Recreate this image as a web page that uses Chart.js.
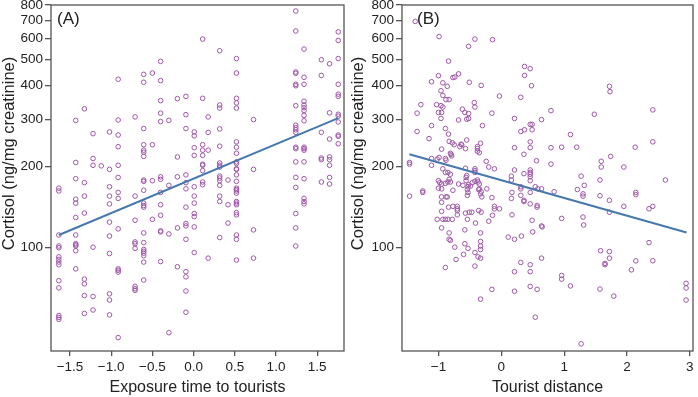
<!DOCTYPE html>
<html>
<head>
<meta charset="utf-8">
<script src="https://cdn.jsdelivr.net/npm/chart.js@4.4.0/dist/chart.umd.min.js"></script>
<style>
  html, body { margin: 0; padding: 0; background: #fff; }
  #wrap { position: relative; width: 698px; height: 397px; }
  .panel { position: absolute; top: 0; width: 349px; height: 397px; }
</style>
</head>
<body>
<div id="wrap">
  <div class="panel" style="left:0"><canvas id="chartA" width="349" height="397"></canvas></div>
  <div class="panel" style="left:349px"><canvas id="chartB" width="349" height="397"></canvas></div>
</div>
<script>
// panel A: exposure time levels (standardised) and cortisol values at each level
const exposureLevels = [-1.635, -1.43, -1.325, -1.22, -1.12, -1.02, -0.915, -0.71, -0.605, -0.50, -0.40, -0.30, -0.196,
  -0.093, 0.008, 0.11, 0.177, 0.317, 0.418, 0.52, 0.727, 1.24, 1.34, 1.55, 1.65, 1.755];
const cortisolByExposure = [
  [166, 162, 111, 101, 99.5, 92, 90, 88, 86, 75, 70.5, 55.6, 54.7, 53.8],
  [297, 207, 180, 151, 146, 129, 111, 103, 102, 101, 97, 83],
  [328, 174, 155, 134, 76, 73, 66, 56.6],
  [265, 214, 202, 100, 65.5, 58.3],
  [201],
  [269, 195, 168, 155, 145, 124, 110, 94.7, 67, 63.5, 55.9],
  [423, 298, 262, 237, 202, 182, 160, 152, 117, 83, 82, 80.7, 46],
  [306, 155, 126, 104.6, 103, 99, 71.4, 70, 69],
  [441, 412, 277, 241, 230, 226, 218, 178, 176, 163, 146, 143, 141, 113, 104, 98, 96.5, 95, 93, 88, 75.4],
  [446, 241, 177, 127],
  [493, 418, 352, 316, 294, 183, 179, 160, 144, 131.5, 115, 114, 88.4],
  [297, 170, 112, 48],
  [358, 217, 183, 118, 84.5],
  [365, 312, 277, 186, 174, 165, 141, 122.5, 120, 107, 81, 77.5, 68.6, 57.2],
  [269, 260, 235, 220, 168, 155, 146, 133.5, 130, 119, 95.5],
  [597, 359, 241, 230, 220, 204, 202, 193, 175, 171],
  [306, 268, 230, 91],
  [540, 339, 330, 276, 238, 206, 202, 199, 184, 181, 177, 170, 155, 148, 108.6],
  [178, 144, 123],
  [505, 446, 359, 345, 330, 247, 236, 224, 208, 205, 196, 195, 186, 176, 166, 164, 162, 159, 148, 146, 144, 134.5, 132, 111, 107, 89.5],
  [299, 195, 116, 91],
  [760, 640, 450, 445, 405, 400, 337, 285, 279, 274, 268, 236, 233, 208, 182, 167, 133.5, 118, 101],
  [548, 430, 405, 350, 339, 331, 323, 310, 296, 236, 233, 230, 208, 180, 152, 148, 145],
  [500, 437, 268, 215, 212, 175],
  [483, 317, 253, 217, 212, 202, 182, 172],
  [635, 590, 505, 405, 372, 365, 313, 308, 293, 262, 259, 243]
];
const fitA_x = [-1.635, 1.755];
const fitA_y = [111, 303];

// panel B: tourist distance and cortisol
const distanceB = [
  -1.37, -0.99, -0.42, -0.52, -0.14, -0.84, 0.37, 0.46, 0.37, 0.48,
  -1.11, -1.00, -0.93, -0.86, -0.77, -0.74, -0.68, -0.51, -0.32, -0.96,
  -0.93, -0.88, -0.83, -0.03, 0.31, -1.28, -1.34, -1.03, -0.96, -0.93,
  -1.00, -0.95, -0.96, -0.62, -0.58, -0.52, -0.43, -0.42, -0.68, -0.55,
  -0.52, -0.15, -0.30, 0.21, 0.46, 0.49, 0.49, 0.37, 0.31, 0.64,
  0.79, -1.34, -1.11, -0.89, -1.15, -0.84, -0.83, -0.78, -0.75, -0.64,
  -0.66, -0.63, -0.57, -0.55, -0.95, -0.80, -0.79, -0.38, -0.38, -0.33,
  -0.38, -0.35, 0.21, 0.46, 0.46, 0.36, 0.56, 0.79, 0.96, 1.20,
  1.10, 1.48, 1.72, 1.73, 2.41, 2.41, 2.13, 1.74, 1.59, 1.59,
  1.95, 2.61, 1.27, 1.32, 1.21, 1.57, 2.14, 2.14, 0.79, -1.46,
  -1.46, -1.46, -1.25, -1.25, -1.11, -1.11, -1.02, -0.99, -0.89, -0.88,
  -0.81, -0.93, -0.89, -0.85, -0.81, -1.00, -0.98, -0.95, -0.89, -0.85,
  -0.83, -0.81, -1.00, -0.95, -0.88, -0.86, -0.95, -0.77, -0.68, -0.61,
  -0.55, -0.56, -0.56, -0.57, -0.42, -0.42, -0.42, -0.52, -0.53, -0.54,
  -0.53, -0.54, -0.46, -0.42, -0.38, -0.37, -0.35, -0.24, -0.20, -0.11,
  -0.35, -0.32, -0.23, -0.15, -0.49, -0.36, -0.33, -0.31, 0.21, 0.16,
  0.16, 0.36, 0.46, 0.46, 0.46, 0.46, 0.46, 0.31, 0.31, 0.46,
  0.54, 0.58, 0.64, 0.84, 0.17, 0.16, 0.31, 0.36, 0.36, 1.30,
  1.30, 1.57, 1.72, -0.95, -0.95, -0.84, -0.77, -0.70, -0.70, -0.70,
  -1.02, -0.93, -0.89, -0.85, -0.78, -0.95, -0.83, -0.83, -0.81, -0.70,
  -0.57, -0.51, -0.47, -0.54, -0.58, -0.41, -0.36, -0.32, -0.33, -0.33,
  -0.74, -0.72, -0.58, -0.60, -0.53, -0.42, -0.37, -0.33, -0.33, -0.33,
  -0.42, -0.89, -0.33, -0.20, -0.14, -0.11, -0.11, -0.03, -0.15, 0.17,
  0.11, 0.21, 0.32, 0.31, 0.21, 0.21, 0.46, 0.49, 0.50, 0.57,
  0.57, 0.64, 0.65, 0.46, 0.46, 0.46, 0.57, 0.64, 0.54, 0.96,
  0.96, 0.96, 1.10, 1.30, 1.31, 1.27, 1.58, 1.57, 1.65, 1.65,
  1.72, 1.72, 1.72, 1.79, 1.95, 2.07, 2.14, 2.35, 2.35, 2.41,
  2.41, 2.94, 2.94, 2.94
];
const cortisolB = [
  695, 610, 597, 561, 594, 494, 472, 463, 437, 400,
  414, 436, 410, 398, 429, 431, 443, 412, 401, 383,
  368, 355, 355, 366, 362, 340, 316, 340, 337, 333,
  318, 318, 302, 327, 318, 315, 346, 333, 298, 300,
  302, 316, 284, 302, 287, 287, 274, 274, 270, 299,
  323, 270, 284, 277, 254, 264, 248, 245, 241, 242,
  237, 241, 233, 251, 232, 222, 219, 237, 233, 244,
  228, 225, 235, 247, 235, 222, 210, 235, 236, 236,
  263, 313, 398, 380, 325, 247, 236, 218, 209, 199,
  199, 178, 184, 170, 164, 178, 160, 157, 204, 207,
  204, 155, 162, 160, 202, 214, 213, 216, 214, 211,
  224, 196, 190, 190, 187, 177, 174, 172, 173, 175,
  179, 175, 166, 165, 154, 154, 154, 163, 172, 170,
  185, 182, 177, 197, 196, 193, 190, 171, 168, 164,
  160, 156, 174, 176, 178, 175, 172, 209, 199, 196,
  165, 161, 165, 153, 169, 164, 158, 154, 194, 184,
  178, 188, 194, 190, 187, 183, 177, 168, 165, 160,
  168, 165, 165, 161, 160, 152, 156, 149.5, 148, 158,
  155, 155.5, 149.5, 147, 136, 141, 142, 142, 139, 137,
  127, 127, 127, 127, 127, 118, 113, 107, 106, 132,
  134, 135, 135, 127, 116, 123, 137, 135, 113, 105,
  100, 90, 103, 94, 99, 95.5, 92, 101, 98, 91,
  85, 84, 64, 125, 131.5, 142, 139, 139, 69.6, 132,
  109, 107, 110, 87.7, 81, 68.5, 145, 126, 114, 143,
  141, 120, 119, 86, 81, 71.4, 69.6, 91, 54.8, 128,
  78.4, 76, 71.7, 129.5, 121, 43.6, 97, 69.8, 87, 86,
  96.3, 91, 135, 65.7, 142, 82.3, 88.9, 104, 139, 142,
  89, 73.3, 70.4, 63.5
];
const fitB_x = [-1.463, 2.947];
const fitB_y = [222, 113.4];

// axis ticks
const cortisolTicks = [100, 200, 300, 400, 500, 600, 700, 800];
const xTicksA = [-1.5, -1.0, -0.5, 0.0, 0.5, 1.0, 1.5];
const xLabelsA = ['\u22121.5', '\u22121.0', '\u22120.5', '0.0', '0.5', '1.0', '1.5'];
const xTicksB = [-1, 0, 1, 2, 3];
const xLabelsB = ['\u22121', '0', '1', '2', '3'];

const FONT = '"Liberation Sans", Arial, Helvetica, sans-serif';
const TEXT_COLOR = '#222';
const AXIS_COLOR = '#555';
const POINT_COLOR = '#9e56a8';
const LINE_COLOR = '#4678b0';
const Y_TITLE = 'Cortisol (ng/mg creatinine)';

Chart.defaults.font.family = FONT;
Chart.defaults.color = TEXT_COLOR;

// frame around the plot area, panel letter and y title
const panelDecor = {
  id: 'panelDecor',
  afterDraw(chart, args, opts) {
    const ctx = chart.ctx;
    const a = chart.chartArea;
    ctx.save();
    ctx.strokeStyle = AXIS_COLOR;
    ctx.lineWidth = 1.3;
    ctx.strokeRect(a.left, a.top, a.right - a.left, a.bottom - a.top);
    ctx.fillStyle = TEXT_COLOR;
    ctx.font = '17px ' + FONT;
    ctx.textAlign = 'left';
    ctx.textBaseline = 'alphabetic';
    ctx.fillText(opts.label, opts.labelX, 23.5);
    ctx.translate(9.5, 153.5);
    ctx.rotate(-Math.PI / 2);
    ctx.font = '16.5px ' + FONT;
    ctx.textAlign = 'center';
    ctx.textBaseline = 'middle';
    ctx.fillText(Y_TITLE, 0, 0);
    ctx.restore();
  }
};

function makeChart(id, points, fitX, fitY, xMin, xMax, xTicks, xLabels, xTitle, yWidth, padRight, label, labelX) {
  return new Chart(document.getElementById(id), {
    type: 'scatter',
    data: {
      datasets: [{
        data: fitX.map(function (x, i) { return {x: x, y: fitY[i]}; }),
        showLine: true,
        borderColor: LINE_COLOR,
        borderWidth: 2,
        pointRadius: 0,
        order: 0
      }, {
        data: points,
        pointRadius: 2.3,
        borderWidth: 1,
        borderColor: POINT_COLOR,
        backgroundColor: 'rgba(0,0,0,0)',
        order: 1
      }]
    },
    options: {
      responsive: false,
      animation: false,
      devicePixelRatio: 1,
      layout: {padding: {top: 4, right: padRight, bottom: 0, left: 0}},
      plugins: {
        legend: {display: false},
        tooltip: {enabled: false},
        panelDecor: {label: label, labelX: labelX}
      },
      scales: {
        x: {
          type: 'linear',
          min: xMin,
          max: xMax,
          afterBuildTicks: function (s) { s.ticks = xTicks.map(function (v) { return {value: v}; }); },
          afterFit: function (s) { s.height = 46; s.paddingLeft = 0; s.paddingRight = 0; },
          ticks: {
            callback: function (v, i) { return xLabels[i]; },
            font: {size: 13.5},
            color: TEXT_COLOR,
            padding: 3,
            maxRotation: 0,
            autoSkip: false
          },
          grid: {drawOnChartArea: false, drawTicks: true, tickLength: 5, tickColor: AXIS_COLOR, lineWidth: 1.3},
          border: {display: false},
          title: {display: true, text: xTitle, font: {size: 16}, color: TEXT_COLOR, padding: 0}
        },
        y: {
          type: 'logarithmic',
          min: 41,
          max: 800,
          afterBuildTicks: function (s) { s.ticks = cortisolTicks.map(function (v) { return {value: v}; }); },
          afterFit: function (s) { s.width = yWidth; s.paddingTop = 0; s.paddingBottom = 0; },
          ticks: {
            callback: function (v) { return String(v); },
            font: {size: 13.5},
            color: TEXT_COLOR,
            padding: 2,
            autoSkip: false
          },
          grid: {drawOnChartArea: false, drawTicks: true, tickLength: 6, tickColor: AXIS_COLOR, lineWidth: 1.3},
          border: {display: false},
          title: {display: false}
        }
      }
    },
    plugins: [panelDecor]
  });
}

let pointsA = [];
exposureLevels.forEach(function (x, i) {
  cortisolByExposure[i].forEach(function (y) { pointsA.push({x: x, y: y}); });
});
let pointsB = distanceB.map(function (x, i) { return {x: x, y: cortisolB[i]}; });

makeChart('chartA', pointsA, fitA_x, fitA_y, -1.73, 1.825, xTicksA, xLabelsA,
  'Exposure time to tourists', 51, 4, '(A)', 57);
makeChart('chartB', pointsB, fitB_x, fitB_y, -1.58, 3.05, xTicksB, xLabelsB,
  'Tourist distance', 53, 1, '(B)', 68);
</script>
</body>
</html>
